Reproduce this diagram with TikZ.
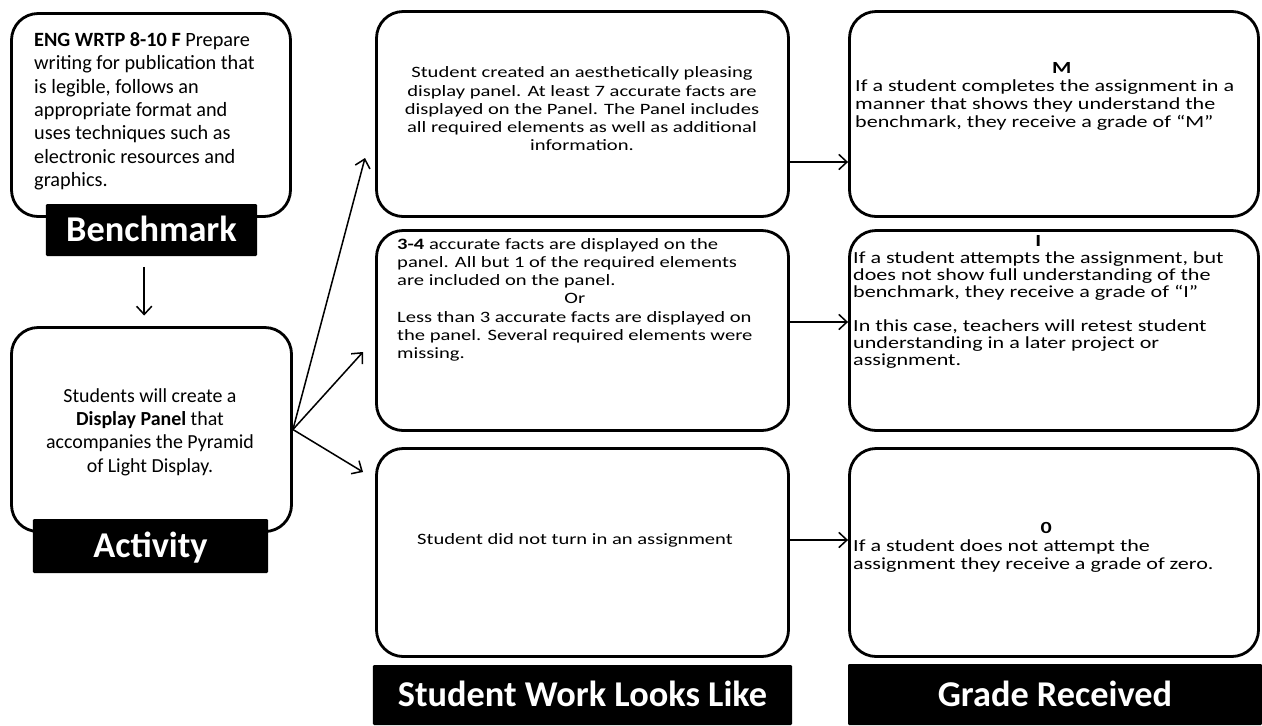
\documentclass[tikz,border=0pt]{standalone}
\usepackage{fontspec}
\setmainfont{Carlito}
\newfontfamily\widefont[FakeStretch=1.3]{Carlito}
\usetikzlibrary{arrows.meta}

\begin{document}
\begin{tikzpicture}
		[x=0.03cm, y=-0.03cm,
		boxsty/.style={draw, line width=2.4pt, rounded corners=0.8cm, inner sep=0},
		lblsty/.style={fill=black, text=white, rounded corners=1pt, inner sep=0,
			font=\fontsize{31}{36}\selectfont\bfseries, text height=20pt, text depth=0pt},
		arrsty/.style={line width=1.3pt, -{Straight Barb[length=7pt,width=13pt,line width=1.3pt]}},
		txtsty/.style={inner sep=0}]
		\useasboundingbox (0,0) rectangle (1262,725);

		% boxes
		\node (bench) at (151,115) [boxsty, minimum width=8.37cm, minimum height=6.09cm] {};
		\node (activity) at (151.5,429.5) [boxsty, minimum width=8.40cm, minimum height=6.12cm] {};
		\node (work 1) at (582.5,114) [boxsty, minimum width=12.36cm, minimum height=6.15cm] {};
		\node (work 2) at (582.5,330.5) [boxsty, minimum width=12.36cm, minimum height=6.00cm] {};
		\node (work 3) at (582.5,552.5) [boxsty, minimum width=12.36cm, minimum height=6.24cm] {};
		\node (grade 1) at (1054,114) [boxsty, minimum width=12.27cm, minimum height=6.15cm] {};
		\node (grade 2) at (1054,330.5) [boxsty, minimum width=12.27cm, minimum height=6.00cm] {};
		\node (grade 3) at (1054,552.5) [boxsty, minimum width=12.27cm, minimum height=6.24cm] {};

		% texts
		\node (text b) at (34,32) [txtsty, anchor=north west, align=left, font=\fontsize{17.3}{20}\selectfont]
			{\textbf{ENG WRTP 8-10 F} Prepare\\writing for publication that\\is legible, follows an\\appropriate format and\\uses techniques such as\\electronic resources and\\graphics.};
		\node (text a) at (150,432) [txtsty, align=center, font=\fontsize{17}{19.9}\selectfont]
			{Students will create a\\\textbf{Display Panel} that\\accompanies the Pyramid\\of Light Display.};
		\node (text w1) at (582,109) [txtsty, align=center, font=\widefont\fontsize{13.5}{15.6}\selectfont]
			{Student created an aesthetically pleasing\\display panel. At least 7 accurate facts are\\displayed on the Panel. The Panel includes\\all required elements as well as additional\\information.};
		\node (text w2) at (397,236) [txtsty, anchor=north west, font=\widefont\fontsize{13.5}{15.6}\selectfont]
			{\begin{tabular}{@{}l@{}}
			\textbf{3-4} accurate facts are displayed on the\\
			panel. All but 1 of the required elements\\
			are included on the panel.\\
			\multicolumn{1}{@{}c@{}}{Or}\\
			Less than 3 accurate facts are displayed on\\
			the panel. Several required elements were\\
			missing.
			\end{tabular}};
		\node (text w3) at (575,540) [txtsty, font=\widefont\fontsize{13.5}{15.6}\selectfont]
			{Student did not turn in an assignment};
		\node (text g1) at (855,60) [txtsty, anchor=north west, font=\widefont\fontsize{14.5}{15.6}\selectfont]
			{\begin{tabular}{@{}l@{}}
			\multicolumn{1}{@{}c@{}}{\hspace*{2em}\textbf{M}}\\
			If a student completes the assignment in a\\
			manner that shows they understand the\\
			benchmark, they receive a grade of “M”
			\end{tabular}};
		\node (text g2) at (853,234) [txtsty, anchor=north west, font=\widefont\fontsize{14.5}{14.5}\selectfont]
			{\begin{tabular}{@{}l@{}}
			\multicolumn{1}{@{}c@{}}{\textbf{I}}\\
			If a student attempts the assignment, but\\
			does not show full understanding of the\\
			benchmark, they receive a grade of “I”\\
			\\
			In this case, teachers will retest student\\
			understanding in a later project or\\
			assignment.
			\end{tabular}};
		\node (text g3) at (853,520) [txtsty, anchor=north west, font=\widefont\fontsize{14.5}{15.6}\selectfont]
			{\begin{tabular}{@{}l@{}}
			\multicolumn{1}{@{}c@{}}{\hspace*{1.5em}\textbf{0}}\\
			If a student does not attempt the\\
			assignment they receive a grade of zero.
			\end{tabular}};

		% black labels
		\node (label b) at (151.5,230) [lblsty, minimum width=6.33cm, minimum height=1.56cm] {Benchmark};
		\node (label a) at (150.5,546) [lblsty, minimum width=7.05cm, minimum height=1.62cm] {Activity};
		\node (label w) at (582.5,695) [lblsty, minimum width=12.57cm, minimum height=1.80cm] {Student Work Looks Like};
		\node (label g) at (1055,694.5) [lblsty, minimum width=12.42cm, minimum height=1.83cm] {Grade Received};

		% arrows
		\coordinate (tip 1) at (365,158);
		\coordinate (tip 2) at (363,352);
		\coordinate (tip 3) at (363,472);
		\draw[arrsty, shorten <=9pt, shorten >=9pt] ([xshift=-0.22cm]label b.south) -- ([xshift=-0.22cm]activity.north);
		\draw[arrsty] (activity.east) -- (tip 1);
		\draw[arrsty] (activity.east) -- (tip 2);
		\draw[arrsty] (activity.east) -- (tip 3);
		\draw[arrsty] ([yshift=-1.44cm]work 1.east) -- ([yshift=-1.44cm]grade 1.west);
		\draw[arrsty] ([yshift=0.255cm]work 2.east) -- ([yshift=0.255cm]grade 2.west);
		\draw[arrsty] ([yshift=0.375cm]work 3.east) -- ([yshift=0.375cm]grade 3.west);
	\end{tikzpicture}
\end{document}
